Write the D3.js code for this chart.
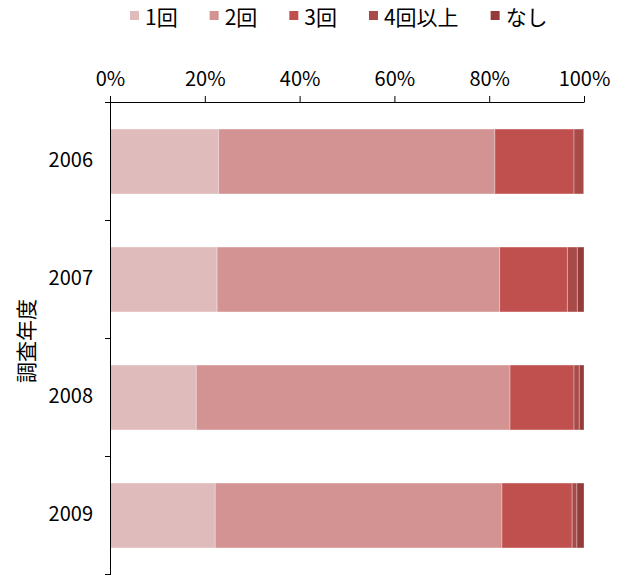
<!DOCTYPE html>
<html>
<head>
<meta charset="utf-8">
<script src="https://cdn.jsdelivr.net/npm/d3@7"></script>
<style>
  html, body { margin: 0; padding: 0; background: #fff; }
  svg { display: block; font-family: "Noto Sans CJK JP", "Noto Sans", sans-serif; }
</style>
</head>
<body>
<svg id="chart" width="621" height="575"></svg>
<script>
const categories = ["2006", "2007", "2008", "2009"];
const seriesNames = ["1回", "2回", "3回", "4回以上", "なし"];
const once = [22.9, 22.6, 18.2, 22.2];
const twice = [58.3, 59.6, 66.2, 60.5];
const thrice = [16.7, 14.3, 13.5, 14.8];
const fourPlus = [2.0, 2.1, 1.1, 1.0];
const none = [0.1, 1.4, 1.0, 1.5];
const xTicks = [0, 0.2, 0.4, 0.6, 0.8, 1.0];
const colors = ["#E0BBBB", "#D39392", "#C0504D", "#A84A48", "#953C3A"];
const yTitle = "調査年度";

const seriesValues = [once, twice, thrice, fourPlus, none];
const rows = categories.map((c, i) => {
  const r = { cat: c };
  seriesNames.forEach((s, j) => { r[s] = seriesValues[j][i] / 100; });
  return r;
});

const svg = d3.select("#chart");
const x = d3.scaleLinear().domain([0, 1]).range([110, 584]);
const y = d3.scaleBand().domain(categories).range([102, 574])
  .paddingInner(0.45).paddingOuter(0.225);

const stack = d3.stack().keys(seriesNames)(rows);

svg.append("g").selectAll("g").data(stack).join("g")
  .attr("fill", (d, i) => colors[i])
  .selectAll("rect").data(d => d).join("rect")
  .attr("x", d => x(d[0]))
  .attr("y", d => y(d.data.cat) + 0.5)
  .attr("width", d => Math.max(0, x(d[1]) - x(d[0])))
  .attr("height", y.bandwidth())
  .attr("stroke", "rgba(255,255,255,0.3)")
  .attr("stroke-width", 1);

// top x axis
const xAxis = svg.append("g").attr("transform", "translate(0,102)")
  .call(d3.axisTop(x).tickValues(xTicks).tickFormat(d3.format(".0%"))
    .tickSize(6).tickSizeOuter(0).tickPadding(10));
xAxis.selectAll("text").attr("font-size", 20).attr("fill", "#000")
  .attr("font-family", "'Noto Sans CJK JP', sans-serif");
xAxis.selectAll("line, path").attr("stroke", "#000");

// y axis: boundary ticks
const yB = d3.scaleLinear().domain([0, categories.length]).range([102, 574]);
const yAxis = svg.append("g").attr("transform", "translate(110,0)")
  .call(d3.axisLeft(yB).tickValues(d3.range(categories.length + 1))
    .tickFormat("").tickSize(5).tickSizeOuter(0));
yAxis.selectAll("line, path").attr("stroke", "#000");
yAxis.select("path").attr("d", "M0.5,102V575");

// y labels
const yLab = svg.append("g").attr("transform", "translate(110,0)")
  .call(d3.axisLeft(y).tickSize(0).tickPadding(17));
yLab.select("path").remove();
yLab.selectAll("text").attr("font-size", 20).attr("fill", "#000")
  .attr("font-family", "'Noto Sans CJK JP', sans-serif");

// y title
svg.append("text")
  .attr("transform", "translate(25,341) rotate(-90)")
  .attr("text-anchor", "middle")
  .attr("dominant-baseline", "central")
  .attr("font-size", 21)
  .text(yTitle);

// legend
const legend = svg.append("g");
let lx = 130;
seriesNames.forEach((s, i) => {
  const g = legend.append("g").attr("transform", `translate(${lx},0)`);
  g.append("rect").attr("x", 0).attr("y", 11).attr("width", 9).attr("height", 9)
    .attr("fill", colors[i]);
  const t = g.append("text").attr("x", 15).attr("y", 16)
    .attr("dominant-baseline", "central").attr("font-size", 21).text(s);
  lx += 15 + t.node().getComputedTextLength() + 32;
});
</script>
</body>
</html>
